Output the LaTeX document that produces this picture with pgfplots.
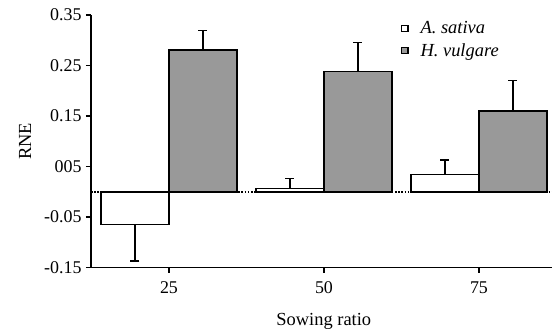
\documentclass[border=0pt]{standalone}
\usepackage{fontspec}
\setmainfont{Liberation Serif}
\usepackage{pgfplots}
\pgfplotsset{compat=1.18}
\pgfplotsset{myerr/.style={error bars/.cd, y dir=both, y explicit,
    error bar style={line width=1.3bp, black, solid},
    error mark options={rotate=90, mark size=4.5bp, line width=1.3bp, black}}}
\begin{document}
\begin{tikzpicture}
\useasboundingbox (-91bp,-66.3bp) rectangle (461bp,267.7bp);
\begin{axis}[
  scale only axis, width=461bp, height=252.7bp,
  xmin=-0.503, xmax=2.471, ymin=-0.15, ymax=0.35,
  axis x line*=bottom, axis y line*=left,
  axis line style={line width=1.5bp, -},
  xtick={0,1,2}, xticklabels={25,50,75},
  ytick={-0.15,-0.05,0.05,0.15,0.25,0.35},
  yticklabels={-0.15,-0.05,005,0.15,0.25,0.35},
  tick align=outside, major tick length=5bp,
  tick style={line width=1.5bp, black},
  ticklabel style={font=\fontsize{18}{21}\selectfont},
  xticklabel style={yshift=-5.5bp},
  yticklabel style={xshift=-1bp},
  label style={font=\fontsize{18.5}{22}\selectfont},
  xlabel={Sowing ratio},
  ylabel={RNE},
  every axis x label/.append style={at={(axis description cs:0.505,-0.211)}, anchor=center},
  every axis y label/.append style={at={(axis description cs:-0.143,0.5)}, anchor=center},
  ybar, bar width=68bp,
  legend style={draw=none, fill=none, at={(axis description cs:0.672,0.982)}, anchor=north west,
    font=\itshape\fontsize{18.5}{21}\selectfont, row sep=4bp, inner sep=0bp},
  legend cell align=left,
  legend image code/.code={\draw[#1, line width=1.2bp] (0bp,-3.2bp) rectangle (6.4bp,3.2bp);
    \path[draw=none, fill=none] (6.4bp,0) -- (17bp,0);},
]
\addplot[draw=black, fill=white, line width=1.3bp, bar shift=-34bp, myerr]
  coordinates {(0,-0.065) += (0,0) -= (0,0.072)
               (1,0.0065) += (0,0.020) -= (0,0)
               (2,0.035) += (0,0.028) -= (0,0)};
\addplot[draw=black, fill={rgb,255:red,153;green,153;blue,153}, line width=1.3bp, bar shift=34bp, myerr]
  coordinates {(0,0.281) += (0,0.039) -= (0,0)
               (1,0.238) += (0,0.058) -= (0,0)
               (2,0.160) += (0,0.061) -= (0,0)};
\legend{A. sativa, H. vulgare}
\addplot[sharp plot, black, line width=1.3bp, dash pattern=on 1.6bp off 1.6bp, forget plot]
  coordinates {(-0.503,0) (2.471,0)};
\end{axis}
\end{tikzpicture}
\end{document}
